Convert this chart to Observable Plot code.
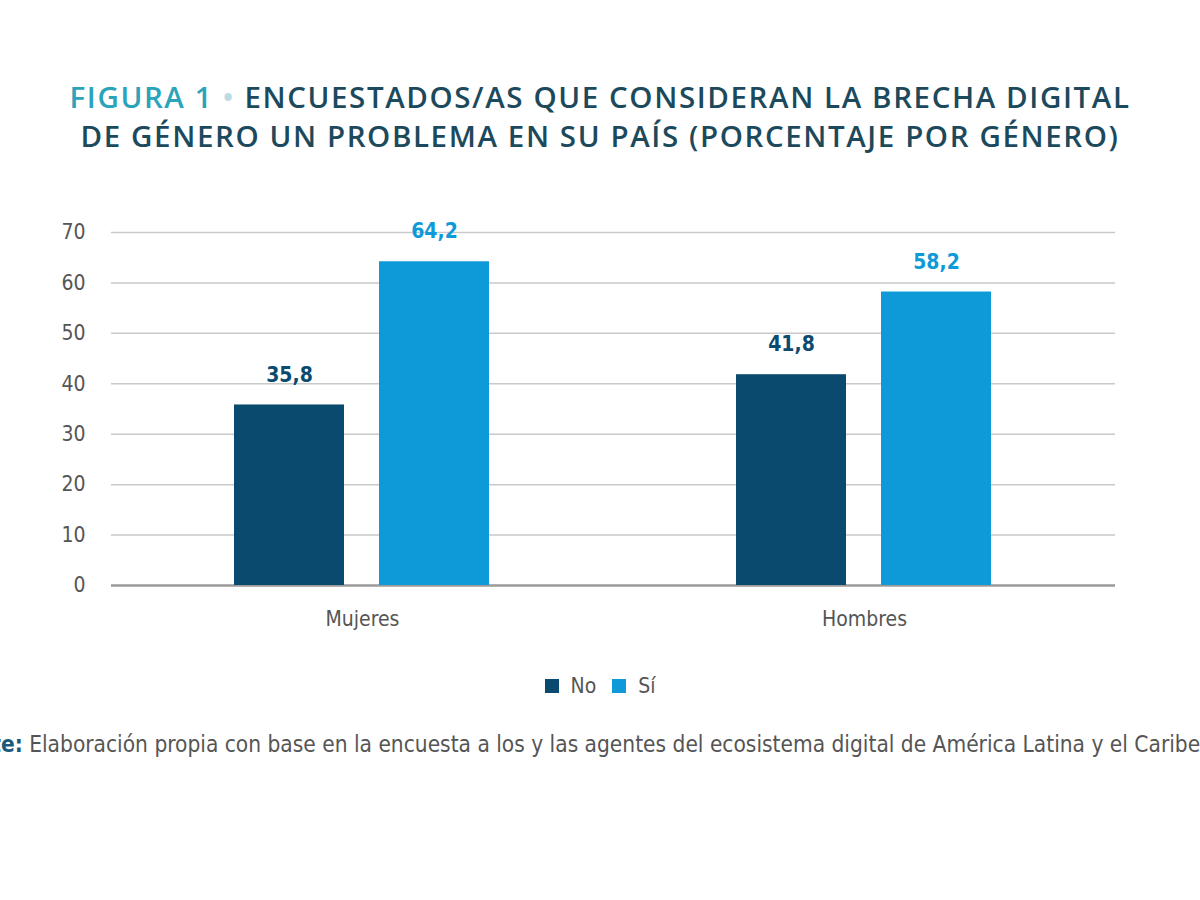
<!DOCTYPE html>
<html>
<head>
<meta charset="utf-8">
<script src="https://cdn.jsdelivr.net/npm/d3@7"></script>
<script src="https://cdn.jsdelivr.net/npm/@observablehq/plot@0.6"></script>
<style>
  html, body { margin: 0; padding: 0; background: #fff; width: 1200px; height: 900px; overflow: hidden; position: relative; }
  #title { position: absolute; top: 77px; left: 0; width: 1200px; text-align: center; font-family: "Open Sans", sans-serif; font-weight: 600; font-size: 29.5px; line-height: 39px; color: #1c4a5c; letter-spacing: 1.6px; }
  #title .fig { color: #2aa3bb; }
  #title .dot { color: #b9dbe2; }
  #chart { position: absolute; top: 200px; left: 0; }
  #legend { position: absolute; top: 674px; left: 0; width: 1200px; display: flex; justify-content: center; gap: 16px; font-family: "Liberation Sans Narrow", "DejaVu Sans Condensed", sans-serif; font-size: 21px; color: #555; }
  #legend .item { display: flex; align-items: center; gap: 12px; }
  #legend .sw { width: 14px; height: 14px; display: inline-block; }
  #caption { position: absolute; top: 731px; left: -64px; white-space: nowrap; font-family: "Liberation Sans Narrow", "DejaVu Sans Condensed", sans-serif; font-size: 22.5px; color: #555; }
  #caption b { color: #1c5a7a; font-weight: 700; }
</style>
</head>
<body>
<div id="title"><span class="fig">FIGURA 1</span> <span class="dot">•</span> ENCUESTADOS/AS QUE CONSIDERAN LA BRECHA DIGITAL<br>DE GÉNERO UN PROBLEMA EN SU PAÍS (PORCENTAJE POR GÉNERO)</div>
<div id="chart"></div>
<div id="legend"></div>
<div id="caption"><b>Fuente:</b> Elaboración propia con base en la encuesta a los y las agentes del ecosistema digital de América Latina y el Caribe.</div>
<script>
const groups = ["Mujeres", "Hombres"];
const series = ["No", "Sí"];
const noValues = [35.8, 41.8];
const siValues = [64.2, 58.2];
const seriesColors = ["#0b4a6f", "#0e9ad9"];
const yTicks = [0, 10, 20, 30, 40, 50, 60, 70];

const data = [];
groups.forEach((g, i) => {
  data.push({group: g, series: "No", value: noValues[i]});
  data.push({group: g, series: "Sí", value: siValues[i]});
});
const fmt = v => v.toFixed(1).replace(".", ",");
const font = '"Liberation Sans Narrow", "DejaVu Sans Condensed", sans-serif';

const chart = Plot.plot({
  width: 1200,
  height: 445,
  marginLeft: 110,
  marginRight: 85,
  marginTop: 32,
  marginBottom: 60,
  style: {fontFamily: font, fontSize: "21px", color: "#555", background: "transparent"},
  fx: {domain: groups, padding: 0, label: null, tickSize: 0, tickPadding: 26, axis: "bottom"},
  x: {domain: series, paddingInner: 0.241, paddingOuter: 0.85, axis: null},
  y: {domain: [0, 70], ticks: yTicks, tickSize: 0, tickPadding: 26, label: null},
  color: {domain: series, range: seriesColors},
  marks: [
    Plot.gridY(yTicks.slice(1), {stroke: "#c9c9c9", strokeOpacity: 1, strokeWidth: 1.5}),
    Plot.ruleY([0], {stroke: "#9a9a9a", strokeWidth: 2.5}),
    Plot.barY(data, {fx: "group", x: "series", y: "value", fill: "series"}),
    Plot.text(data, {fx: "group", x: "series", y: "value", text: d => fmt(d.value), fill: d => d.series === "No" ? seriesColors[0] : seriesColors[1], fontWeight: "bold", fontSize: 21, dy: -30})
  ]
});
document.getElementById("chart").appendChild(chart);

const legend = document.getElementById("legend");
series.forEach((s, i) => {
  const item = document.createElement("span");
  item.className = "item";
  const sw = document.createElement("span");
  sw.className = "sw";
  sw.style.background = seriesColors[i];
  const t = document.createElement("span");
  t.textContent = s;
  item.appendChild(sw);
  item.appendChild(t);
  legend.appendChild(item);
});
</script>
</body>
</html>
